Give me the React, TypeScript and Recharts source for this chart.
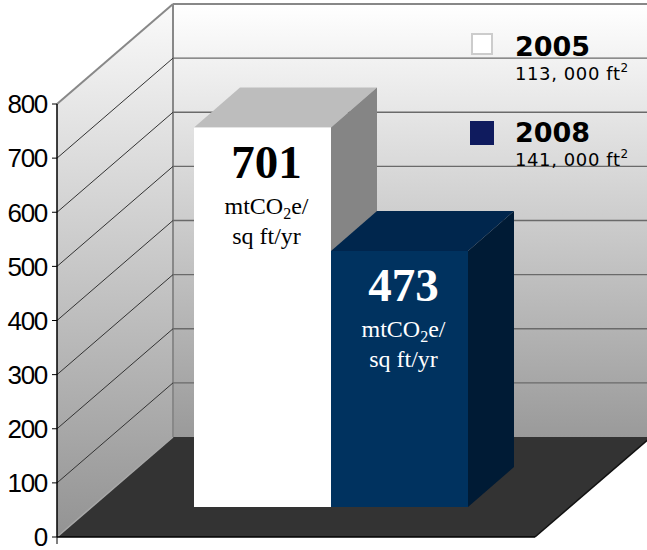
import { BarChart, Bar, XAxis, YAxis, CartesianGrid } from "recharts";

// values
const categories = ["Emissions"];
const years = ["2005", "2008"];
const floorArea = ["113, 000 ft", "141, 000 ft"];
const intensity = [701, 473];
const yTicks = [0, 100, 200, 300, 400, 500, 600, 700, 800];
const unitTop = "mtCO";
const unitBottom = "sq ft/yr";

const data = categories.map((name) => ({
  name,
  y2005: intensity[0],
  y2008: intensity[1],
}));

// layout of the 3d box
const W = 647;
const H = 550;
const LEFT = 57;
const TOP = 104;
const BOTTOM = 537;
const RIGHT = 535;
const DEPTH_X = 116;
const DEPTH_Y = 100;
const BAR_OFF_X = 35;
const BAR_OFF_Y = 30;
const BAR_DX = 46;
const BAR_DY = 40;

const seriesStyle = [
  { key: "y2005", front: "#ffffff", top: "#bdbdbd", side: "#858585", text: "#000000", swatch: "#ffffff", swatchStroke: "#cccccc" },
  { key: "y2008", front: "#00325f", top: "#00264d", side: "#001b35", text: "#ffffff", swatch: "#0f1b5e", swatchStroke: "#0f1b5e" },
];

const makeBox = (i: number) => (props: any) => {
  const { x, y, width, height } = props;
  const s = seriesStyle[i];
  const value = props.payload?.[s.key] ?? props.value;
  const fx = x + BAR_OFF_X;
  const fy = y - BAR_OFF_Y;
  const cx = fx + width / 2 + 4;
  const serif = "'Liberation Serif', 'Times New Roman', serif";
  return (
    <g>
      <polygon
        points={`${fx},${fy} ${fx + BAR_DX},${fy - BAR_DY} ${fx + width + BAR_DX},${fy - BAR_DY} ${fx + width},${fy}`}
        fill={s.top}
      />
      <polygon
        points={`${fx + width},${fy} ${fx + width + BAR_DX},${fy - BAR_DY} ${fx + width + BAR_DX},${fy + height - BAR_DY} ${fx + width},${fy + height}`}
        fill={s.side}
      />
      <rect x={fx} y={fy} width={width} height={height} fill={s.front} />
      <text x={cx} y={fy + 50} textAnchor="middle" fontFamily={serif} fontWeight="bold" fontSize={47} fill={s.text}>
        {value}
      </text>
      <text x={cx} y={fy + 86} textAnchor="middle" fontFamily={serif} fontSize={24} fill={s.text}>
        {unitTop}
        <tspan fontSize={16} dy={5}>2</tspan>
        <tspan dy={-5}>e/</tspan>
      </text>
      <text x={cx} y={fy + 116} textAnchor="middle" fontFamily={serif} fontSize={24} fill={s.text}>
        {unitBottom}
      </text>
    </g>
  );
};

// grid lines running along the left wall and the back wall
const wallLine = (props: any) => {
  const { y1, x1, x2, index } = props;
  if (Math.abs(y1 - TOP) < 1 || Math.abs(y1 - BOTTOM) < 1) return <g key={`wl-${index}`} />;
  return (
    <g key={`wl-${index}`}>
      <line x1={x1} y1={y1} x2={x1 + DEPTH_X} y2={y1 - DEPTH_Y} stroke="#333" strokeWidth={1} />
      <line x1={x1 + DEPTH_X} y1={y1 - DEPTH_Y} x2={x2 + DEPTH_X + 20} y2={y1 - DEPTH_Y} stroke="#6a6a6a" strokeWidth={1.3} />
    </g>
  );
};

const YTick = (props: any) => {
  const { x, y, payload } = props;
  return (
    <text
      x={x}
      y={y}
      dy="0.36em"
      textAnchor="end"
      fontFamily="'Liberation Sans', Arial, sans-serif"
      fontSize={26}
      letterSpacing={-1.3}
      fill="#000"
    >
      {payload.value}
    </text>
  );
};

function Walls() {
  const backTop = TOP - DEPTH_Y;
  const backBottom = BOTTOM - DEPTH_Y;
  return (
    <svg width={W} height={H} style={{ position: "absolute", left: 0, top: 0 }}>
      <defs>
        <linearGradient id="leftWall" gradientUnits="userSpaceOnUse" x1="0" y1={backTop} x2="0" y2={BOTTOM}>
          <stop offset="0" stopColor="#fafafa" />
          <stop offset="1" stopColor="#939393" />
        </linearGradient>
        <linearGradient id="backWall" gradientUnits="userSpaceOnUse" x1="0" y1={backTop} x2="0" y2={backBottom}>
          <stop offset="0" stopColor="#ffffff" />
          <stop offset="1" stopColor="#9a9a9a" />
        </linearGradient>
      </defs>
      <rect x={LEFT + DEPTH_X} y={backTop} width={W} height={backBottom - backTop} fill="url(#backWall)" />
      <polygon
        points={`${LEFT},${BOTTOM} ${LEFT},${TOP} ${LEFT + DEPTH_X},${backTop} ${LEFT + DEPTH_X},${backBottom}`}
        fill="url(#leftWall)"
      />
      <polygon
        points={`${LEFT},${BOTTOM} ${RIGHT},${BOTTOM} ${RIGHT + DEPTH_X},${backBottom} ${LEFT + DEPTH_X},${backBottom}`}
        fill="#333333"
      />
      <line x1={LEFT} y1={BOTTOM} x2={LEFT + DEPTH_X} y2={backBottom} stroke="#a8a8a8" strokeWidth={1.5} />
      <line x1={RIGHT} y1={BOTTOM} x2={RIGHT + DEPTH_X} y2={backBottom} stroke="#111" strokeWidth={1.5} />
      <line x1={LEFT} y1={TOP} x2={LEFT + DEPTH_X} y2={backTop} stroke="#888" strokeWidth={2} />
      <line x1={LEFT + DEPTH_X} y1={backTop} x2={W} y2={backTop} stroke="#888" strokeWidth={2} />
      <line x1={LEFT + DEPTH_X} y1={backTop} x2={LEFT + DEPTH_X} y2={backBottom} stroke="#888" strokeWidth={2} />
      <line x1={LEFT} y1={BOTTOM} x2={LEFT} y2={BOTTOM + 7} stroke="#000" strokeWidth={1} />
    </svg>
  );
}

function LegendBox() {
  const rows = [
    { sq: [471, 33, 22], y: 56, y2: 80 },
    { sq: [470, 121, 24], y: 142, y2: 166 },
  ];
  return (
    <svg width={W} height={200} style={{ position: "absolute", left: 0, top: 0 }}>
      {years.map((yr, i) => {
        const r = rows[i];
        const s = seriesStyle[i];
        return (
          <g key={yr}>
            <rect x={r.sq[0] + 1} y={r.sq[1] + 1} width={r.sq[2] - 2} height={r.sq[2] - 2} fill={s.swatch} stroke={s.swatchStroke} strokeWidth={2} />
            <text x={515} y={r.y} fontFamily="'DejaVu Sans', Verdana, sans-serif" fontWeight="bold" fontSize={27} fill="#000">
              {yr}
            </text>
            <text x={515} y={r.y2} fontFamily="'DejaVu Sans', Verdana, sans-serif" fontSize={18} letterSpacing={0.6} fill="#000">
              {floorArea[i]}
              <tspan fontSize={12} dy={-8}>2</tspan>
            </text>
          </g>
        );
      })}
    </svg>
  );
}

export default function App() {
  return (
    <div style={{ position: "absolute", left: 0, top: 0, width: W, height: H, background: "#fff" }}>
      <Walls />
      <div style={{ position: "absolute", left: 0, top: 0 }}>
        <BarChart
          width={W}
          height={H}
          data={data}
          margin={{ top: TOP, right: W - RIGHT, bottom: 0, left: 0 }}
          barCategoryGap={102}
          barGap={0}
        >
          <CartesianGrid vertical={false} horizontal={wallLine} />
          <XAxis dataKey="name" height={H - BOTTOM} tick={false} tickLine={false} axisLine={{ stroke: "#000", strokeWidth: 1.5 }} />
          <YAxis
            width={LEFT}
            domain={[0, 800]}
            ticks={yTicks}
            interval={0}
            tickSize={5}
            tickMargin={5}
            tick={<YTick />}
            axisLine={{ stroke: "#000", strokeWidth: 1.5 }}
            tickLine={{ stroke: "#000" }}
          />
          {seriesStyle.map((s, i) => (
            <Bar key={s.key} dataKey={s.key} name={years[i]} shape={makeBox(i)} isAnimationActive={false} />
          ))}
        </BarChart>
      </div>
      <LegendBox />
    </div>
  );
}
